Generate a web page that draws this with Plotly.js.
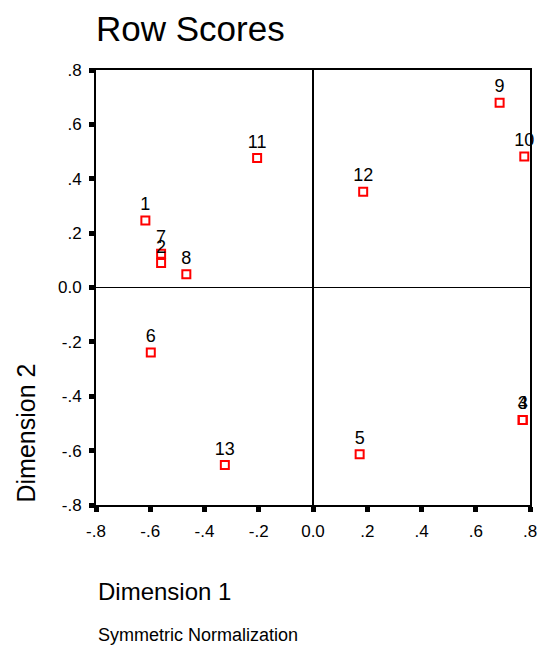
<!DOCTYPE html>
<html>
<head>
<meta charset="utf-8">
<script src="https://cdn.plot.ly/plotly-3.0.1.min.js"></script>
<style>html,body{margin:0;padding:0;background:#fff;}#chart{width:541px;height:648px;}</style>
</head>
<body>
<div id="chart"></div>
<script>
// Row labels and their scores on the two dimensions
const rowLabels = ["1", "2", "3", "4", "5", "6", "7", "8", "9", "10", "11", "12", "13"];
const dim1 = [-0.618, -0.56, 0.773, 0.773, 0.172, -0.598, -0.56, -0.467, 0.688, 0.779, -0.206, 0.185, -0.325];
const dim2 = [0.246, 0.090, -0.487, -0.487, -0.613, -0.239, 0.124, 0.049, 0.680, 0.482, 0.476, 0.352, -0.653];

const tickValues = [-0.8, -0.6, -0.4, -0.2, 0, 0.2, 0.4, 0.6, 0.8];
const tickLabels = ["-.8", "-.6", "-.4", "-.2", "0.0", ".2", ".4", ".6", ".8"];

const FONT = "Liberation Sans, Arial, sans-serif";

const trace = {
  x: dim1,
  y: dim2,
  text: rowLabels,
  mode: "markers+text",
  type: "scatter",
  textposition: "top center",
  textfont: {family: FONT, size: 18, color: "#000"},
  marker: {symbol: "square-open", size: 8, color: "#ff0000", line: {color: "#ff0000", width: 2}},
  cliponaxis: false,
  hoverinfo: "none"
};

const axisCommon = {
  range: [-0.8, 0.8],
  tickmode: "array",
  tickvals: tickValues,
  ticktext: tickLabels,
  ticks: "outside",
  ticklen: 5,
  tickwidth: 5,
  tickcolor: "#000",
  showgrid: false,
  zeroline: true,
  zerolinecolor: "#000",
  zerolinewidth: 1.5,
  showline: true,
  mirror: true,
  linecolor: "#000",
  linewidth: 2,
  tickfont: {family: FONT, size: 17, color: "#000"}
};

const layout = {
  width: 541,
  height: 648,
  margin: {l: 96, r: 11, t: 70, b: 143, pad: 0},
  paper_bgcolor: "#fff",
  plot_bgcolor: "#fff",
  showlegend: false,
  title: {
    text: "Row Scores",
    font: {family: FONT, size: 35, color: "#000"},
    xref: "paper", x: 0, xanchor: "left",
    yref: "container", y: 1 - 29/648, yanchor: "middle"
  },
  xaxis: Object.assign({}, axisCommon, {ticklabelstandoff: 5}),
  yaxis: Object.assign({}, axisCommon, {ticklabelstandoff: 4}),
  annotations: [
    {text: "Dimension 1", xref: "paper", yref: "paper", x: 0, xanchor: "left",
     y: -(591 - 505) / 435, yanchor: "middle", showarrow: false,
     font: {family: FONT, size: 24, color: "#000"}},
    {text: "Symmetric Normalization", xref: "paper", yref: "paper", x: 0, xanchor: "left",
     y: -(635 - 505) / 435, yanchor: "middle", showarrow: false,
     font: {family: FONT, size: 18, color: "#000"}},
    {text: "Dimension 2", xref: "paper", yref: "paper", x: -(96 - 25) / 434, xanchor: "center",
     y: 0, yanchor: "bottom", textangle: -90, showarrow: false,
     font: {family: FONT, size: 25, color: "#000"}}
  ]
};

Plotly.newPlot("chart", [trace], layout, {displayModeBar: false, staticPlot: true});
</script>
</body>
</html>
